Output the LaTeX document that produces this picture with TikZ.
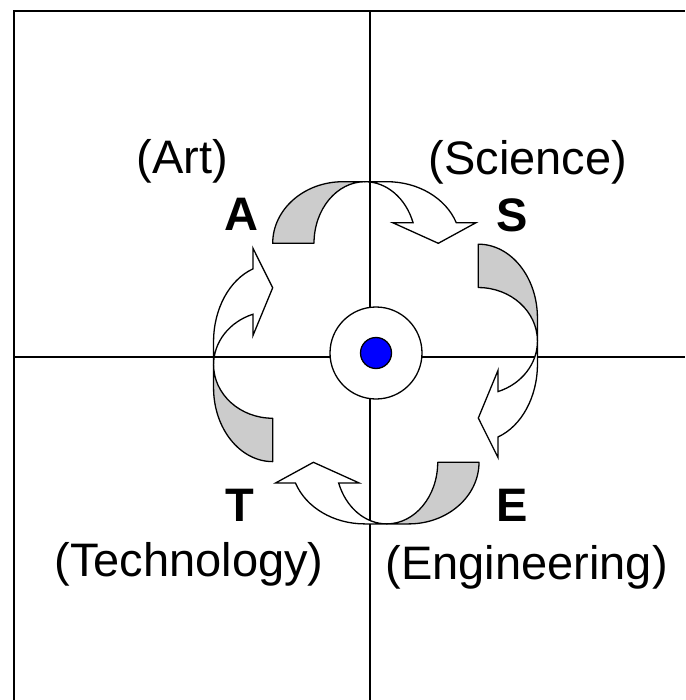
\documentclass[tikz,border=0pt]{standalone}
\usepackage{fontspec}
\setmainfont{Liberation Sans}
\usepackage{tikz}
\definecolor{backgray}{RGB}{204,204,204}
\definecolor{dotblue}{RGB}{0,0,255}
\tikzset{
  axisline/.style={line width=2pt, color=black},
  backside/.style={
    fill=backgray, draw=black, line width=1.3pt, line join=round},
  frontside/.style={
    fill=white, draw=black, line width=1.3pt, line join=miter},
  fieldname/.style={anchor=base, inner sep=0pt,
    font=\fontsize{47}{56}\selectfont},
  fieldletter/.style={anchor=base, inner sep=0pt,
    font=\fontsize{47}{56}\selectfont\bfseries},
  hub/.style={circle, draw=black, fill=white, line width=1.3pt,
    minimum size=92pt, inner sep=0pt},
  core/.style={circle, draw=black, fill=dotblue, line width=1.3pt,
    minimum size=31pt, inner sep=0pt}
}
%% one curved block arrow: gray back band, white front band with head
\newcommand{\cyclearrow}[1]{%
  \begin{scope}[#1]
    \filldraw[backside] (-92.3,0)
      arc[start angle=180, end angle=90, x radius=70.3, y radius=61.6]
      -- (0,61.6)
      arc[start angle=90, end angle=180, x radius=51, y radius=61.6]
      -- cycle;
    \filldraw[frontside] (0,61.6) -- (22,61.6)
      arc[start angle=90, end angle=19.54, x radius=73.5, y radius=61.6]
      -- (111,20.6) -- (73.3,0) -- (27.7,20.6) -- (48.06,20.6)
      arc[start angle=19.54, end angle=90, x radius=51, y radius=61.6]
      -- cycle;
  \end{scope}}

\begin{document}
\begin{tikzpicture}[x=1pt, y=-1pt]

  \useasboundingbox (0,0) rectangle (685,700);

  %% Frame and quadrant axes
  \draw[axisline, line join=miter] (14,700) -- (14,11) -- (685,11);
  \draw[axisline] (370,11) -- (370,700);
  \draw[axisline] (14,356.7) -- (685,356.7);

  %% Curved arrows: A -> S -> E -> T -> A
  \cyclearrow{shift={(365,243.3)}, x={(1pt,0pt)}, y={(0pt,1pt)}}
  \cyclearrow{shift={(478.3,341.1)}, x={(0pt,-1.05pt)}, y={(0.96pt,0pt)}}
  \cyclearrow{shift={(386.7,462.3)}, x={(-1pt,0pt)}, y={(0pt,-1pt)}}
  \cyclearrow{shift={(272.7,364.7)}, x={(0pt,1.05pt)}, y={(-0.96pt,0pt)}}

  %% Centre
  \node[hub] (hub) at (376,353) {};
  \node[core] (core) at (hub.center) {};

  %% Field names
  \node[fieldname] (art) at (182.5,173.3) {(Art)};
  \node[fieldname] (science) at (528,175) {(Science)};
  \node[fieldname] (technology) at (189,576.7) {(Technology)};
  \node[fieldname] (engineering) at (526.7,579) {(Engineering)};

  %% Letters
  \node[fieldletter] (a) at (241.5,231) {A};
  \node[fieldletter] (s) at (512.5,232) {S};
  \node[fieldletter] (t) at (240,521.7) {T};
  \node[fieldletter] (e) at (512,521.7) {E};

\end{tikzpicture}
\end{document}
